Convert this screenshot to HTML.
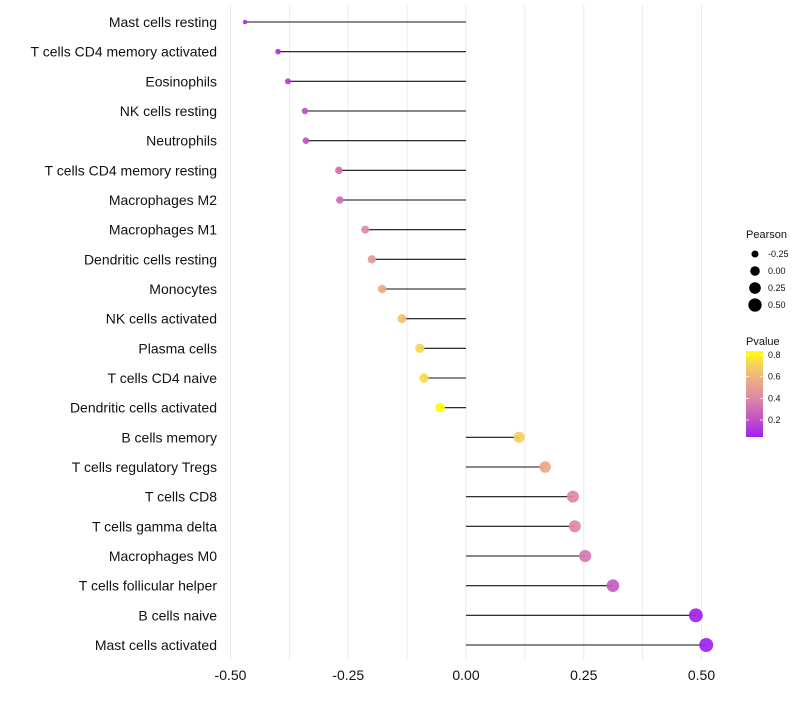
<!DOCTYPE html>
<html><head><meta charset="utf-8"><style>
body{margin:0;background:#fff;font-family:"Liberation Sans",sans-serif;}
</style></head><body>
<svg id="chart" width="800" height="700" xmlns="http://www.w3.org/2000/svg"></svg>
<script>
const categories=["Mast cells resting","T cells CD4 memory activated","Eosinophils","NK cells resting","Neutrophils","T cells CD4 memory resting","Macrophages M2","Macrophages M1","Dendritic cells resting","Monocytes","NK cells activated","Plasma cells","T cells CD4 naive","Dendritic cells activated","B cells memory","T cells regulatory  Tregs ","T cells CD8","T cells gamma delta","Macrophages M0","T cells follicular helper","B cells naive","Mast cells activated"];
const pearson=[-0.469,-0.399,-0.378,-0.342,-0.340,-0.270,-0.268,-0.214,-0.200,-0.178,-0.136,-0.098,-0.089,-0.055,0.113,0.168,0.227,0.231,0.253,0.312,0.488,0.510];
const pvalue=[0.10,0.12,0.14,0.20,0.20,0.30,0.30,0.42,0.48,0.55,0.65,0.72,0.74,0.84,0.70,0.55,0.40,0.40,0.35,0.24,0.05,0.045];
const xTicks=[-0.5,-0.25,0,0.25,0.5];
const xTickLabels=["-0.50","-0.25","0.00","0.25","0.50"];
const sizeLegend=[-0.25,0,0.25,0.5];
const sizeLegendLabels=["-0.25","0.00","0.25","0.50"];
const colorTicks=[0.2,0.4,0.6,0.8];

const NS="http://www.w3.org/2000/svg";
const svg=document.getElementById('chart');
function mk(t,a,p){const e=document.createElementNS(NS,t);for(const k in a)e.setAttribute(k,a[k]);(p||svg).appendChild(e);return e;}
const x=v=>466+v*471;
const y=i=>22+i*(623/21);
const r=v=>Math.sqrt(Math.max(2,26+45*v));
const stops=[[0.04,[160,32,240]],[0.2,[192,80,200]],[0.4,[220,136,168]],[0.55,[236,168,136]],[0.7,[244,208,96]],[0.84,[255,255,0]]];
function col(p){if(p<=stops[0][0])return `rgb(${stops[0][1]})`;for(let i=1;i<stops.length;i++){if(p<=stops[i][0]){const a=stops[i-1],b=stops[i],t=(p-a[0])/(b[0]-a[0]);return `rgb(${a[1].map((c,j)=>Math.round(c+(b[1][j]-c)*t))})`;}}return 'rgb(255,255,0)';}
for(let g=-0.5;g<=0.5001;g+=0.125){const l=mk('line',{x1:x(g),x2:x(g),y1:5,y2:660,stroke:'#ebebeb','stroke-width':1});
}
xTicks.forEach((v,i)=>{const t=mk('text',{x:x(v),y:680,'text-anchor':'middle','font-size':14,fill:'#111'});t.textContent=xTickLabels[i];
});
categories.forEach((c,i)=>{
 const t=mk('text',{x:217,y:y(i)+5,'text-anchor':'end','font-size':14,fill:'#111'});t.textContent=c;
 
 const l=mk('line',{x1:x(0),x2:x(pearson[i]),y1:y(i),y2:y(i),stroke:'#111','stroke-width':1.1});
 
 const d=mk('circle',{cx:x(pearson[i]),cy:y(i),r:r(pearson[i]),fill:col(pvalue[i]),'fill-opacity':0.92});
 
});
const st=mk('text',{x:746,y:238,'font-size':11,fill:'#111'});st.textContent='Pearson';

sizeLegend.forEach((v,i)=>{const cy=254+i*17;
 const c=mk('circle',{cx:755,cy:cy,r:r(v)-0.3,fill:'#000'});
 
 const t=mk('text',{x:768,y:cy+3,'font-size':9,fill:'#111'});t.textContent=sizeLegendLabels[i];
 });
const ct=mk('text',{x:746,y:345,'font-size':11,fill:'#111'});ct.textContent='Pvalue';

const defs=mk('defs',{});const lg=mk('linearGradient',{id:'g',x1:0,y1:1,x2:0,y2:0},defs);
stops.forEach(s=>mk('stop',{offset:((s[0]-0.043)/(0.837-0.043)),'stop-color':`rgb(${s[1]})`},lg));
const cy=p=>437-(p-0.043)*108.3;
const bar=mk('rect',{x:746,y:351,width:17,height:86,fill:'url(#g)'});

colorTicks.forEach(v=>{
 mk('line',{x1:746,x2:749,y1:cy(v),y2:cy(v),stroke:'#fff','stroke-width':0.8});
 mk('line',{x1:760,x2:763,y1:cy(v),y2:cy(v),stroke:'#fff','stroke-width':0.8});
 const t=mk('text',{x:768,y:cy(v)+3,'font-size':9,fill:'#111'});t.textContent=v.toFixed(1);
 });
</script>
</body></html>
